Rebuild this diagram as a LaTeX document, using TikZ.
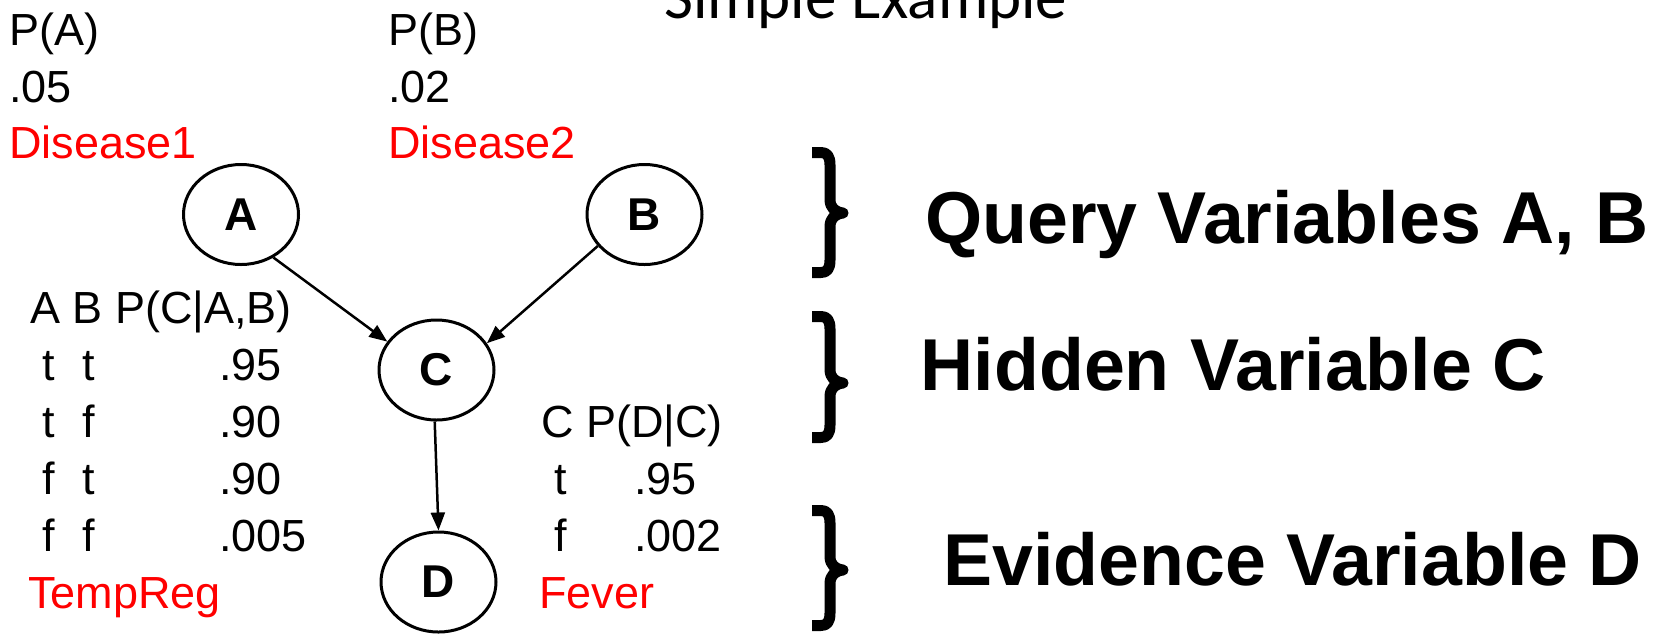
\documentclass[tikz,border=0pt]{standalone}
\usepackage{fontspec}
\setmainfont{Liberation Sans}
\newfontfamily\titlefont{Carlito}
\usetikzlibrary{shapes.geometric,arrows.meta}
\newcommand\mybrace[4]{%
\draw[bracestyle] (812,#2+5.5) -- (821,#2+5.5) .. controls (827,#2+5.5) and (830,#2+9) .. (830,#2+18) -- (830,#3-14) .. controls (830,#3-5) and (835,#3-1) .. (843,#3) .. controls (835,#3+1) and (830,#3+5) .. (830,#3+14) -- (830,#4-18) .. controls (830,#4-9) and (827,#4-5.5) .. (821,#4-5.5) -- (812,#4-5.5);
\coordinate (#1) at (843,#3);}
\tikzset{
  txt/.style={font=\fontsize{45}{54}\selectfont, anchor=base west, inner sep=0pt},
  redtxt/.style={txt, text=red},
  lab/.style={font=\fontsize{73.5}{88}\selectfont\bfseries, anchor=base west, inner sep=0pt},
  var/.style={draw, ellipse, line width=3pt, minimum width=115pt, minimum height=100pt, inner sep=0pt, font=\fontsize{46}{55}\selectfont\bfseries},
  link/.style={line width=2.5pt, -{Triangle[length=18pt,width=14pt]}},
  bracestyle/.style={line width=11pt, line join=round}
}
\begin{document}
\begin{tikzpicture}[x=1pt,y=-1pt]
\useasboundingbox (0,0) rectangle (1668,633);
% title
\node[font=\titlefont\fontsize{63}{75}\selectfont, anchor=base west, inner sep=0pt] (title) at (664,18) {Simple Example};
% priors
\node[txt] (pa) at (9,45) {P(A)};
\node[txt] (pav) at (9,102) {.05};
\node[redtxt] (d1) at (9,158) {Disease1};
\node[txt] (pb) at (388,45) {P(B)};
\node[txt] (pbv) at (388,102) {.02};
\node[redtxt] (d2) at (388,158) {Disease2};
% variables
\node[var] (A) at (241,214.5) {A};
\node[var] (B) at (644.5,214.5) {B};
\node[var] (C) at (436.5,370) {C};
\node[var] (D) at (438.5,582) {D};
\draw[link] (A.-53) -- (C.150);
\draw[link] (B.214) -- (C.28);
\draw[link] (C.-92) -- (D.90);
% CPT of C
\node[txt] (hc) at (30,323) {A B P(C|A,B)};
\node[txt] (r1a) at (42,380) {t};
\node[txt] (r1b) at (82,380) {t};
\node[txt] (r1c) at (219,380) {.95};
\node[txt] (r2a) at (42,437) {t};
\node[txt] (r2b) at (82,437) {f};
\node[txt] (r2c) at (219,437) {.90};
\node[txt] (r3a) at (42,494) {f};
\node[txt] (r3b) at (82,494) {t};
\node[txt] (r3c) at (219,494) {.90};
\node[txt] (r4a) at (42,551) {f};
\node[txt] (r4b) at (82,551) {f};
\node[txt] (r4c) at (219,551) {.005};
\node[redtxt] (tr) at (28,608) {TempReg};
% CPT of D
\node[txt] (hd) at (541,437) {C P(D|C)};
\node[txt] (s1a) at (554,494) {t};
\node[txt] (s1b) at (634,494) {.95};
\node[txt] (s2a) at (554,551) {f};
\node[txt] (s2b) at (634,551) {.002};
\node[redtxt] (fv) at (539,608) {Fever};
% braces and labels
\mybrace{br1}{147}{213}{278}
\mybrace{br2}{311}{383}{443}
\mybrace{br3}{505}{570}{631}
\node[lab] (q) at (925,243) {Query Variables A, B};
\node[lab] (h) at (920.5,390) {Hidden Variable C};
\node[lab] (e) at (943,585) {Evidence Variable D};
\end{tikzpicture}
\end{document}
